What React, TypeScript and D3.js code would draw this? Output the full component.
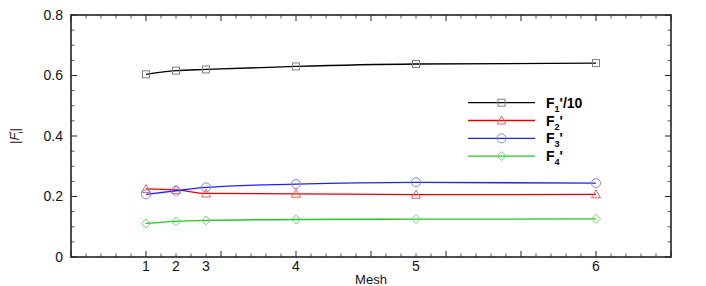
import React from "react";
import * as d3 from "d3";

const meshX = [1, 1.4, 1.8, 3, 4.6, 7];
const meshLabels = ["1", "2", "3", "4", "5", "6"];
const f1 = [0.604, 0.616, 0.62, 0.63, 0.638, 0.641];
const f2 = [0.225, 0.222, 0.21, 0.209, 0.206, 0.207];
const f3 = [0.207, 0.219, 0.23, 0.241, 0.247, 0.244];
const f4 = [0.111, 0.118, 0.121, 0.124, 0.125, 0.126];
const yTicks = [0, 0.2, 0.4, 0.6, 0.8];

const seriesList = [
  { key: "F1", values: f1, line: "#000000", mark: "#808080", shape: "square", sub: "1", suffix: "'/10" },
  { key: "F2", values: f2, line: "#e00000", mark: "#f06060", shape: "triangle", sub: "2", suffix: "'" },
  { key: "F3", values: f3, line: "#2020ff", mark: "#8080ff", shape: "circle", sub: "3", suffix: "'" },
  { key: "F4", values: f4, line: "#20c820", mark: "#70e070", shape: "diamond", sub: "4", suffix: "'" },
];

const L = 71, R = 671, T = 15, B = 257;
const x = d3.scaleLinear().domain([0, 8]).range([L, R]);
const y = d3.scaleLinear().domain([0, 0.8]).range([B, T]);
const FONT = "'Liberation Sans', Arial, sans-serif";

function Marker({ shape, cx, cy, color }: { shape: string; cx: number; cy: number; color: string }) {
  const common = { fill: "none", stroke: color, strokeWidth: 1 };
  if (shape === "square") return <rect x={cx - 3.5} y={cy - 3.5} width={7} height={7} {...common} />;
  if (shape === "circle") return <circle cx={cx} cy={cy} r={4.5} {...common} />;
  if (shape === "triangle")
    return <path d={`M${cx},${cy - 4.5}L${cx + 4.5},${cy + 3.5}L${cx - 4.5},${cy + 3.5}Z`} {...common} />;
  return <path d={`M${cx},${cy - 4.5}L${cx + 4.5},${cy}L${cx},${cy + 4.5}L${cx - 4.5},${cy}Z`} {...common} />;
}

export default function App() {
  const line = d3
    .line<number>()
    .x((_, i) => x(meshX[i]))
    .y((d) => y(d))
    .curve(d3.curveMonotoneX);

  const xMajor = d3.range(0, 8.001, 1);
  const xMinor = d3.range(0, 8.001, 0.2).filter((v) => Math.abs(v - Math.round(v)) > 1e-6);
  const yMajor = yTicks;
  const yMinor = d3.range(0, 0.8001, 0.05).filter((v) => Math.abs(v * 5 - Math.round(v * 5)) > 1e-6);
  const axisColor = "#222";

  const legendX0 = 468, legendX1 = 535, legendY0 = 102.7, legendDy = 17.8;

  return (
    <svg width={706} height={286} style={{ position: "absolute", left: 0, top: 0, background: "#fff" }} fontFamily={FONT}>
      {/* ticks */}
      <g stroke={axisColor} strokeWidth={1}>
        {xMajor.map((v) => (
          <g key={"xM" + v}>
            <line x1={x(v)} x2={x(v)} y1={B} y2={B - 6} />
            <line x1={x(v)} x2={x(v)} y1={T} y2={T + 6} />
          </g>
        ))}
        {xMinor.map((v) => (
          <g key={"xm" + v} stroke="#555">
            <line x1={x(v)} x2={x(v)} y1={B} y2={B - 3.5} />
            <line x1={x(v)} x2={x(v)} y1={T} y2={T + 3.5} />
          </g>
        ))}
        {yMajor.map((v) => (
          <g key={"yM" + v}>
            <line x1={L} x2={L + 6} y1={y(v)} y2={y(v)} />
            <line x1={R} x2={R - 6} y1={y(v)} y2={y(v)} />
          </g>
        ))}
        {yMinor.map((v) => (
          <g key={"ym" + v} stroke="#555">
            <line x1={L} x2={L + 3.5} y1={y(v)} y2={y(v)} />
            <line x1={R} x2={R - 3.5} y1={y(v)} y2={y(v)} />
          </g>
        ))}
      </g>
      <rect x={L} y={T} width={R - L} height={B - T} fill="none" stroke={axisColor} strokeWidth={1.6} />

      {/* series */}
      {seriesList.map((s) => (
        <g key={s.key}>
          <path d={line(s.values) || ""} fill="none" stroke={s.line} strokeWidth={1.3} />
          {s.values.map((v, i) => (
            <Marker key={i} shape={s.shape} cx={x(meshX[i])} cy={y(v)} color={s.mark} />
          ))}
        </g>
      ))}

      {/* y tick labels */}
      {yTicks.map((v) => (
        <text key={"yl" + v} x={63} y={y(v) + 4.8} textAnchor="end" fontSize={14} fill="#111">
          {v === 0 ? "0" : d3.format(".1f")(v)}
        </text>
      ))}
      {/* x tick labels */}
      {meshLabels.map((lab, i) => (
        <text key={"xl" + i} x={x(meshX[i])} y={270.5} textAnchor="middle" fontSize={14} fill="#111">
          {lab}
        </text>
      ))}
      <text x={371} y={284} textAnchor="middle" fontSize={13} fill="#111">
        Mesh
      </text>
      <text transform={`translate(19,136) rotate(-90)`} textAnchor="middle" fontSize={13} fill="#111">
        <tspan>|</tspan>
        <tspan fontStyle="italic">F</tspan>
        <tspan fontSize={8} dy={-5}>′</tspan>
        <tspan fontSize={8} dy={9} dx={-2}>i</tspan>
        <tspan dy={-4}>|</tspan>
      </text>

      {/* legend */}
      {seriesList.map((s, i) => {
        const ly = legendY0 + i * legendDy;
        return (
          <g key={"lg" + s.key}>
            <line x1={legendX0} x2={legendX1} y1={ly} y2={ly} stroke={s.line} strokeWidth={1.3} />
            <Marker shape={s.shape} cx={(legendX0 + legendX1) / 2} cy={ly} color={s.mark} />
            <text x={546} y={ly + 5} fontSize={14} fontWeight="bold" fill="#000">
              <tspan>F</tspan>
              <tspan fontSize={9} dy={4}>{s.sub}</tspan>
              <tspan dy={-4}>{s.suffix}</tspan>
            </text>
          </g>
        );
      })}
    </svg>
  );
}
